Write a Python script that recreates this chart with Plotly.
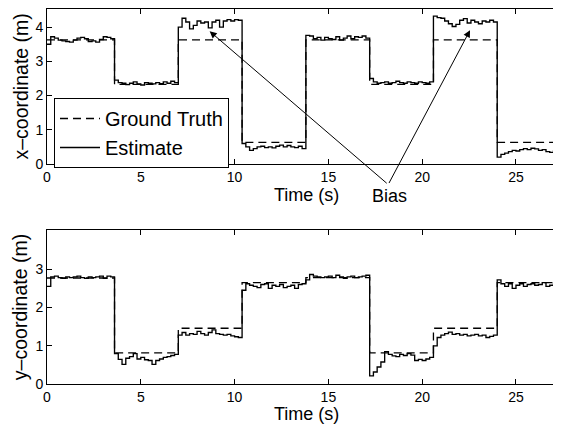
import numpy as np
import plotly.graph_objects as go

# ---------------- data ----------------
sample_period = 0.2  # s

# ground truth (step) positions
gt_t = [0.0, 3.6, 7.0, 10.4, 13.8, 17.2, 20.6, 24.0, 27.4]
gt_x = [3.63, 2.33, 3.63, 0.63, 3.63, 2.33, 3.63, 0.63, 0.63]
gt_y = [2.77, 0.82, 1.46, 2.65, 2.78, 0.82, 1.46, 2.65, 2.65]

# estimated x-coordinate (every 0.2 s)
est_x = [
    3.50, 3.72, 3.68, 3.62, 3.60, 3.58, 3.56, 3.62, 3.68, 3.70, 3.66, 3.58, 3.60, 3.56, 3.64, 3.72, 3.70, 3.66,
    2.45, 2.38, 2.36, 2.32, 2.36, 2.40, 2.34, 2.31, 2.38, 2.36, 2.34, 2.38, 2.35, 2.40, 2.36, 2.42, 2.38,
    4.00, 4.26, 4.15, 3.95, 4.05, 4.18, 4.12, 4.15, 3.98, 4.15, 4.20, 4.00, 4.18, 4.22, 4.18, 4.22, 4.20,
    0.60, 0.50, 0.40, 0.45, 0.50, 0.52, 0.48, 0.50, 0.47, 0.52, 0.55, 0.50, 0.54, 0.50, 0.48, 0.52, 0.45,
    3.76, 3.74, 3.66, 3.70, 3.62, 3.70, 3.66, 3.64, 3.72, 3.62, 3.68, 3.74, 3.66, 3.72, 3.70, 3.74, 3.68,
    2.50, 2.40, 2.36, 2.38, 2.40, 2.36, 2.38, 2.42, 2.38, 2.36, 2.40, 2.38, 2.36, 2.40, 2.38, 2.36, 2.40,
    4.32, 4.28, 4.26, 4.18, 4.10, 4.02, 4.08, 4.20, 4.25, 4.12, 4.20, 4.15, 4.10, 4.18, 4.15, 4.20, 4.15,
    0.20, 0.28, 0.32, 0.36, 0.40, 0.38, 0.42, 0.45, 0.42, 0.46, 0.44, 0.40, 0.42, 0.36, 0.34, 0.38, 0.40, 0.42,
]

# estimated y-coordinate (every 0.2 s)
est_y = [
    2.55, 2.80, 2.82, 2.78, 2.76, 2.80, 2.78, 2.80, 2.82, 2.78, 2.76, 2.80, 2.78, 2.80, 2.82, 2.76, 2.82, 2.80,
    0.80, 0.65, 0.52, 0.68, 0.72, 0.80, 0.66, 0.70, 0.64, 0.62, 0.52, 0.62, 0.66, 0.70, 0.72, 0.75, 0.78,
    1.28, 1.35, 1.28, 1.32, 1.30, 1.38, 1.32, 1.28, 1.35, 1.42, 1.32, 1.30, 1.28, 1.30, 1.26, 1.24, 1.22,
    2.45, 2.62, 2.58, 2.55, 2.52, 2.60, 2.62, 2.50, 2.58, 2.55, 2.60, 2.52, 2.55, 2.58, 2.50, 2.60, 2.62,
    2.72, 2.86, 2.82, 2.80, 2.78, 2.80, 2.82, 2.78, 2.84, 2.80, 2.76, 2.80, 2.82, 2.78, 2.80, 2.82, 2.84,
    0.22, 0.32, 0.45, 0.58, 0.85, 0.78, 0.74, 0.72, 0.78, 0.75, 0.80, 0.76, 0.62, 0.65, 0.62, 0.66, 0.70,
    1.00, 1.22, 1.28, 1.32, 1.36, 1.30, 1.32, 1.28, 1.30, 1.26, 1.28, 1.30, 1.26, 1.28, 1.22, 1.25, 1.28,
    2.72, 2.62, 2.55, 2.62, 2.50, 2.58, 2.62, 2.55, 2.60, 2.62, 2.58, 2.60, 2.65, 2.55, 2.58, 2.62, 2.65, 2.60,
]

t = np.round(np.arange(len(est_x)) * sample_period, 2)

x_ticks = [0, 5, 10, 15, 20, 25]
top_y_ticks = [0, 1, 2, 3, 4]
bot_y_ticks = [0, 1, 2, 3]

bias_label = "Bias"
bias_tail = (18.19, -0.60)
bias_heads = [(8.67, 3.88), (22.55, 3.91)]

# ---------------- figure ----------------
# the page body adds an 8 px offset, so the figure is 8 px smaller
OFF = 8
W, H = 561 - OFF, 431 - OFF
ML = 47 - OFF
FONT = "Liberation Sans, Arial, Helvetica, sans-serif"

def py(pix):
    """screen pixel row -> paper y"""
    return 1 - (pix - OFF) / H

def px(pix):
    """screen pixel column -> paper x"""
    return (pix - OFF - ML) / (W - ML)

fig = go.Figure()

line_gt = dict(color="black", width=1.3, dash="8px,5px", shape="hv")
line_est = dict(color="black", width=1.35, shape="hv")

fig.add_trace(go.Scatter(x=gt_t, y=gt_x, mode="lines", line=line_gt,
                         name="Ground Truth", xaxis="x", yaxis="y"))
fig.add_trace(go.Scatter(x=t, y=est_x, mode="lines", line=line_est,
                         name="Estimate", xaxis="x", yaxis="y"))
fig.add_trace(go.Scatter(x=gt_t, y=gt_y, mode="lines", line=line_gt,
                         showlegend=False, xaxis="x2", yaxis="y2"))
fig.add_trace(go.Scatter(x=t, y=est_y, mode="lines", line=line_est,
                         showlegend=False, xaxis="x2", yaxis="y2"))

axis_common = dict(
    showline=True, linecolor="black", linewidth=1, mirror="ticks",
    ticks="inside", ticklen=5, tickcolor="black", tickwidth=1,
    showgrid=False, zeroline=False, automargin=False,
    tickfont=dict(family=FONT, size=14, color="black"),
)

x_range = [0, 27.4]
fig.update_layout(
    width=W, height=H,
    margin=dict(l=ML, r=0, t=0, b=0),
    paper_bgcolor="white", plot_bgcolor="white",
    font=dict(family=FONT, color="black"),
    xaxis=dict(domain=[0, 1], range=x_range, tickvals=x_ticks, anchor="y", **axis_common),
    yaxis=dict(domain=[py(164), py(9)], range=[0, 4.53], tickvals=top_y_ticks,
               anchor="x", **axis_common),
    xaxis2=dict(domain=[0, 1], range=x_range, tickvals=x_ticks, anchor="y2", **axis_common),
    yaxis2=dict(domain=[py(384.3), py(230)], range=[0, 4.02], tickvals=bot_y_ticks,
                anchor="x2", **axis_common),
    legend=dict(x=px(54), y=py(98), xanchor="left", yanchor="top",
                bgcolor="white", bordercolor="black", borderwidth=1,
                font=dict(family=FONT, size=20, color="black"),
                tracegroupgap=0, itemwidth=40),
    showlegend=True,
)

title_font = dict(family=FONT, size=18, color="black")
ylab_font = dict(family=FONT, size=19.5, color="black")
ann = [
    dict(text="x–coordinate (m)", x=px(20), y=(py(164) + py(9)) / 2, xref="paper", yref="paper",
         textangle=-90, showarrow=False, xanchor="center", yanchor="middle", font=ylab_font),
    dict(text="y–coordinate (m)", x=px(20), y=(py(384.3) + py(230)) / 2, xref="paper", yref="paper",
         textangle=-90, showarrow=False, xanchor="center", yanchor="middle", font=ylab_font),
    dict(text="Time (s)", x=px(306), y=py(195), xref="paper", yref="paper",
         showarrow=False, xanchor="center", yanchor="middle", font=title_font),
    dict(text="Time (s)", x=px(306), y=py(414), xref="paper", yref="paper",
         showarrow=False, xanchor="center", yanchor="middle", font=title_font),
    dict(text=bias_label, x=px(389), y=py(196), xref="paper", yref="paper",
         showarrow=False, xanchor="center", yanchor="middle", font=title_font),
]
for hx, hy in bias_heads:
    ann.append(dict(text="", x=hx, y=hy, xref="x", yref="y",
                    ax=bias_tail[0], ay=bias_tail[1], axref="x", ayref="y",
                    showarrow=True, arrowhead=2, arrowsize=1.4, arrowwidth=1,
                    arrowcolor="black"))
fig.update_layout(annotations=ann)

fig.write_html("out.html")
